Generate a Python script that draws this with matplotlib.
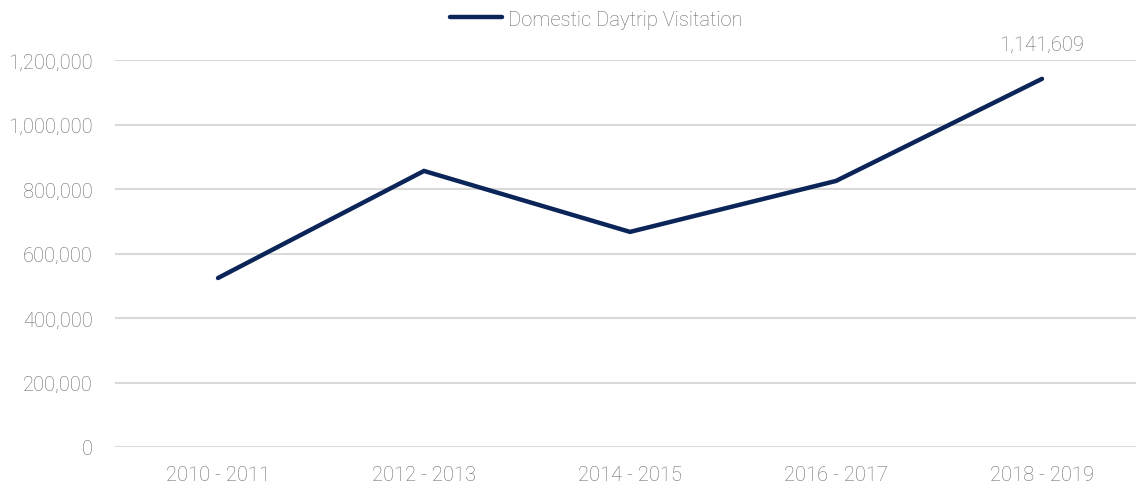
import matplotlib
matplotlib.use("Agg")
import matplotlib.pyplot as plt
from matplotlib.ticker import FuncFormatter

categories = ["2010 - 2011", "2012 - 2013", "2014 - 2015", "2016 - 2017", "2018 - 2019"]
visitation = [524000, 856000, 667000, 825000, 1141609]
series_name = "Domestic Daytrip Visitation"
y_ticks = [0, 200000, 400000, 600000, 800000, 1000000, 1200000]

TXT = "#6A6A6A"
FS = 14.5
plt.rcParams['font.family'] = ['Roboto', 'DejaVu Sans']
fig = plt.figure(figsize=(11.36, 4.89), dpi=100)
ax = fig.add_axes([115/1136, 41/489, 1 - 115/1136, (448-61)/489])

x = list(range(len(categories)))
line, = ax.plot(x, visitation, color="#0C2559", lw=3.2, solid_capstyle="round", solid_joinstyle="miter", label=series_name, zorder=3)

ax.set_xlim(-0.5, (1136-218)/206)
ax.set_ylim(0, 1200000)
ax.set_yticks(y_ticks)
ax.yaxis.set_major_formatter(FuncFormatter(lambda v, p: f"{int(v):,}"))
ax.set_xticks(x)
ax.set_xticklabels(categories)
ax.grid(axis="y", color="#D9D9D9", lw=1.5)
ax.set_axisbelow(True)
for s in ax.spines.values():
    s.set_visible(False)
ax.tick_params(length=0, colors=TXT, labelsize=FS)
ax.tick_params(axis="x", pad=13)
ax.tick_params(axis="y", pad=16)
for lab in ax.get_xticklabels() + ax.get_yticklabels():
    lab.set_fontweight("light")

ax.annotate(f"{visitation[-1]:,}", (x[-1], visitation[-1]), xytext=(0, 24.5), textcoords="offset points",
            ha="center", va="center", color=TXT, fontsize=FS, fontweight="light", annotation_clip=False)

leg = fig.legend(handles=[line], loc="center", bbox_to_anchor=(596/1136, 1 - 20/489), frameon=False,
                 fontsize=FS, handlelength=2.6, handletextpad=0.3)
for t in leg.get_texts():
    t.set_color(TXT)
    t.set_fontweight("light")

fig.savefig("out.png", dpi=100)
